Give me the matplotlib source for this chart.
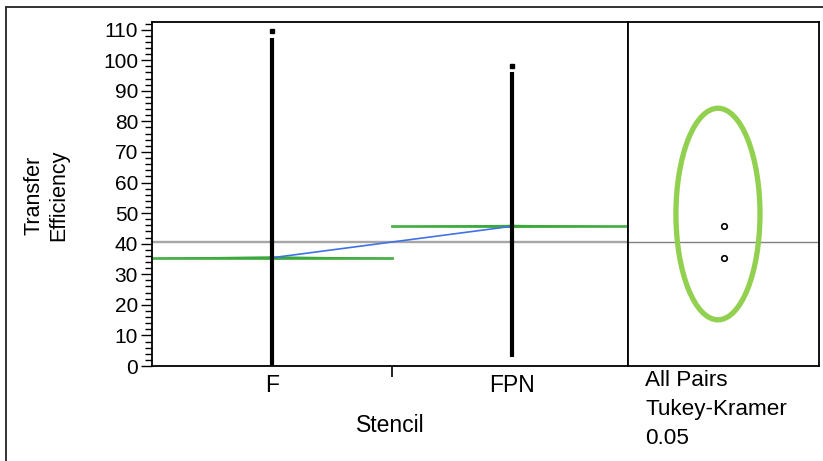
import numpy as np
import matplotlib
matplotlib.use("Agg")
import matplotlib.pyplot as plt
from matplotlib.patches import Ellipse, Polygon
from matplotlib.lines import Line2D
from matplotlib.ticker import MultipleLocator

plt.rcParams['font.family'] = ['Liberation Sans', 'DejaVu Sans']

# data
groups = ['F', 'FPN']
lows = [0.0, 2.8]          # bottom of the dense point column
highs = [107.3, 96.2]      # top of the dense point column
outliers = [109.6, 98.2]   # lone point above each column
means = [35.4, 45.7]
mean_ci = [0.5, 0.5]
grand_mean = 40.6
circle_center = 49.7
circle_radius = 34.6
test_label = ['All Pairs', 'Tukey-Kramer', '0.05']

W, H = 823, 461
fig = plt.figure(figsize=(W / 100, H / 100), dpi=100)

def box(x0, y0, x1, y1):
    return [x0 / W, 1 - y1 / H, (x1 - x0) / W, (y1 - y0) / H]

ax = fig.add_axes(box(152, 22, 628, 366))
ax2 = fig.add_axes(box(628, 22, 819, 366))

xs = np.arange(len(groups))
ax.set_xlim(-0.5, 1.483)
ax.set_ylim(0, 112.5)

ax.axhline(grand_mean, color='#a6a6a6', lw=1.7, zorder=1)

for x, lo, hi, out, m, ci in zip(xs, lows, highs, outliers, means, mean_ci):
    ax.add_patch(Polygon([[x - 0.5, m], [x, m + ci], [x + 0.5, m], [x, m - ci]],
                         closed=True, facecolor='#169016', edgecolor='none', alpha=0.8, zorder=2))
    ax.plot([x - 0.5, x + 0.5], [m, m], color='#3aaa3a', lw=2.0, alpha=0.9, zorder=2)
    ax.vlines(x, lo, hi, color='black', lw=3.0, zorder=4)
    ax.plot([x], [out], marker='s', ms=3.2, color='black', mec='black', zorder=4)

ax.plot(xs, means, color='#3f72e6', lw=1.2, zorder=3)

ax.set_xticks(xs)
ax.set_xticklabels(groups, fontsize=16.5)
ax.tick_params(axis='x', length=0, pad=6)
ax.set_xticks([0.5], minor=True)
ax.tick_params(axis='x', which='minor', length=8, width=1.2, direction='out')

ax.yaxis.set_major_locator(MultipleLocator(10))
ax.yaxis.set_minor_locator(MultipleLocator(2))
ax.tick_params(axis='y', which='major', length=8, width=1.0, labelsize=15, pad=2)
ax.tick_params(axis='y', which='minor', length=5, width=1.0)

ax.set_xlabel('Stencil', fontsize=16.5, labelpad=12)
ax.set_ylabel('Transfer\nEfficiency', fontsize=15.5)
ax.yaxis.set_label_coords((69 - 152) / 476, (366 - 195) / 344)
for s in ax.spines.values():
    s.set_linewidth(1.3)

# comparison circles panel
ax2.set_xlim(0, 1)
ax2.set_ylim(0, 112.5)
ax2.axhline(grand_mean, color='#808080', lw=1.0, zorder=1)
ax2.add_patch(Ellipse((0.471, circle_center), 0.44, 2 * circle_radius,
                      fill=False, edgecolor='#92d050', lw=3.8, zorder=2))
ax2.plot([0.503] * len(means), means, ls='none', marker='o', ms=4,
         mfc='white', mec='black', mew=1.2, zorder=3)
ax2.set_xticks([])
ax2.set_yticks([])
for s in ax2.spines.values():
    s.set_linewidth(1.3)

for i, t in enumerate(test_label):
    fig.text(645 / W, 1 - (381 + 28.8 * i) / H, t, fontsize=16.2, va='center', ha='left')

# outer frame (top and left edges only visible)
fig.add_artist(Line2D([6 / W, 1], [1 - 7 / H, 1 - 7 / H], color='#333333', lw=1.4))
fig.add_artist(Line2D([6 / W, 6 / W], [0, 1 - 7 / H], color='#333333', lw=1.4))

fig.savefig('out.png', dpi=100)
